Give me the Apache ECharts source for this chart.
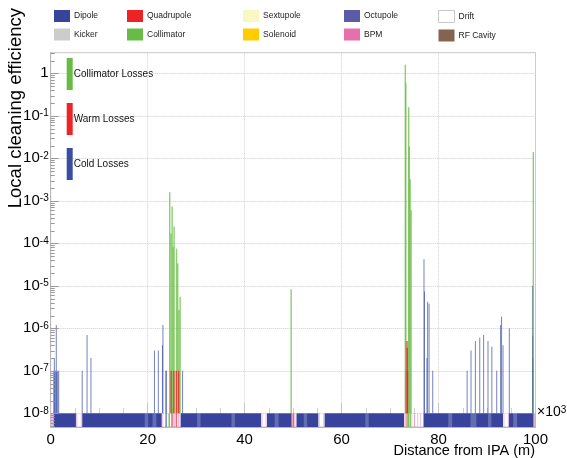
<!DOCTYPE html>
<html><head><meta charset="utf-8">
<script src="https://cdn.jsdelivr.net/npm/echarts@6/dist/echarts.min.js"></script>
<style>html,body{margin:0;padding:0;background:#fff}#c{width:567px;height:458px}</style>
</head><body><div id="c"></div>
<script>
// ---- element types (legend) ----
const elementTypes  = ['Dipole','Quadrupole','Sextupole','Octupole','Drift','Kicker','Collimator','Solenoid','BPM','RF Cavity'];
const elementColors = ['#38449c','#ee2326','#f8f8c4','#5b5ba8','#ffffff','#cccccc','#68bc45','#ffcc00','#e770ac','#846351'];

// ---- lattice strip (start m/1000, end m/1000, type) ----
const stripStart = [0.0, 0.6, 5.2, 6.2, 6.5, 23.0, 23.7, 24.3, 24.9, 25.2, 25.8, 26.2, 26.8, 43.5, 44.3, 44.6, 49.7, 49.9, 50.2, 50.7, 55.3, 56.2, 56.5, 73.0, 73.4, 73.7, 74.0, 74.4, 75.0, 75.6, 76.2, 76.9, 93.4, 94.3, 94.5, 99.55, 99.7,
  19.4, 21.0, 30.2, 37.3, 46.2, 52.2, 64.9, 82.0, 86.6, 90.2, 95.4];
const stripEnd   = [0.6, 5.2, 5.5, 6.5, 22.9, 23.2, 23.9, 24.6, 25.1, 25.7, 26.0, 26.6, 43.4, 43.7, 44.5, 49.7, 49.9, 50.1, 50.5, 55.2, 55.5, 56.4, 72.9, 73.3, 73.6, 73.9, 74.3, 74.6, 75.2, 75.8, 76.4, 93.3, 93.6, 94.5, 99.6, 99.65, 100.0,
  20.1, 21.8, 30.9, 38.0, 47.0, 52.9, 65.6, 82.8, 87.8, 90.9, 96.2];
const stripType  = ['BPM','Dipole','BPM','BPM','Dipole','BPM','Dipole','Collimator','Quadrupole','BPM','Quadrupole','BPM','Dipole','BPM','BPM','Dipole','BPM','Quadrupole','BPM','Dipole','BPM','BPM','Dipole','BPM','Quadrupole','Collimator','Collimator','BPM','BPM','BPM','BPM','Dipole','BPM','BPM','Dipole','Collimator','BPM',
  'Drift','Drift','Drift','Drift','Drift','Drift','Drift','Drift','Drift','Drift','Drift'];

// ---- losses ----
const coldS = [0.65, 0.75, 0.85, 1.05, 1.15, 1.25, 1.45, 1.65, 6.5, 7.5, 8.3, 21.4, 22.2, 23.05, 23.15, 23.75, 23.85, 27.2, 73.2, 77.0, 77.1, 77.6, 77.75, 78.05, 78.8, 85.9, 86.7, 87.6, 88.5, 89.3, 90.2, 91.0, 92.0, 92.8, 93.0, 93.3, 94.6, 99.4, 99.45, 99.5];
const coldV = [1e-7, 2e-7, 1e-7, 1e-7, 1.2e-6, 1e-7, 1e-7, 1e-7, 1e-7, 7e-7, 2e-7, 3e-7, 3e-7, 4e-7, 1.2e-6, 1e-7, 1e-7, 1e-7, 1e-7, 4.2e-5, 7.3e-6, 2e-7, 4.2e-6, 3.8e-6, 1e-7, 1e-7, 3e-7, 5e-7, 6e-7, 7e-7, 5e-7, 3.7e-7, 1e-7, 1.2e-6, 1.9e-6, 4e-7, 1e-6, 1e-5, 6.5e-7, 2e-7];
const warmS = [24.85, 25.4, 25.9, 26.4, 73.5, 73.55, 73.6];
const warmV = [1e-7, 1e-7, 1e-7, 1e-7, 5e-7, 3.5e-7, 1e-7];
const collS = [24.55, 24.8, 25.05, 25.25, 25.45, 25.95, 26.2, 26.45, 26.7, 49.6, 73.15, 73.25, 73.85, 73.95, 74.15, 74.35, 99.55];
const collV = [1.6e-3, 1.7e-4, 7.3e-4, 8.3e-5, 2.5e-4, 7.5e-5, 3.4e-5, 2.7e-6, 5.5e-6, 8.3e-6, 1.6, 0.58, 0.16, 0.019, 3.2e-3, 6e-4, 1.4e-2];

// ---- axes ----
const xTickInterval = 20;
const yMajorExp = [-8, -7, -6, -5, -4, -3, -2, -1, 0];
const yMinExp = -8.322, yMaxExp = 0.485;
const yMin = Math.pow(10, yMinExp), yMax = Math.pow(10, yMaxExp), yBase = 1e-8;

const FF = '"Liberation Sans", Arial, Helvetica, sans-serif';
const yMajor = yMajorExp.map(e => Math.pow(10, e));
const yMinor = [];
for (let e = -9; e <= 0; e++) for (let k = 2; k <= 9; k++) { const v = k * Math.pow(10, e); if (v > yMin && v < yMax) yMinor.push(v); }

const chart = echarts.init(document.getElementById('c'), null, {renderer: 'canvas'});

function barRender(w, op) {
  return function (params, api) {
    const t = api.coord([api.value(0), api.value(1)]);
    const b = api.coord([api.value(0), yBase]);
    return {type: 'rect', shape: {x: t[0] - w / 2, y: t[1], width: w, height: b[1] - t[1]},
      style: {fill: api.visual('color'), opacity: op}};
  };
}
function stripRender(op) {
  return function (params, api) {
    const a = api.coord([api.value(0), yBase]);
    const b = api.coord([api.value(1), yMin]);
    const w = Math.max(1, b[0] - a[0]);
    return {type: 'rect', shape: {x: a[0], y: a[1], width: w, height: b[1] - a[1]},
      style: {fill: api.visual('color'), opacity: op}};
  };
}
const stripOpacity = {'BPM': 0.45, 'Drift': 0.22, 'Quadrupole': 0.9, 'Collimator': 0.9, 'Dipole': 1};

const series = [
  {name: 'Cold Losses', type: 'custom', itemStyle: {color: '#3a4da3'}, z: 3, renderItem: barRender(1, 0.7),
   encode: {x: 0, y: 1}, data: coldS.map((s, i) => [s, coldV[i]])},
  {name: 'Collimator Losses', type: 'custom', itemStyle: {color: '#68bc45'}, z: 4, renderItem: barRender(1.4, 0.75),
   encode: {x: 0, y: 1}, data: collS.map((s, i) => [s, collV[i]])},
  {name: 'Warm Losses', type: 'custom', itemStyle: {color: '#ee2326'}, z: 5, renderItem: barRender(1.3, 0.85),
   encode: {x: 0, y: 1}, data: warmS.map((s, i) => [s, warmV[i]])}
];
elementTypes.forEach((t, ti) => {
  const d = [];
  stripType.forEach((st, i) => { if (st === t) d.push([stripStart[i], stripEnd[i], yBase]); });
  series.push({name: t, type: 'custom', itemStyle: {color: elementColors[ti]}, z: t === 'Dipole' ? 6 : 7,
    renderItem: stripRender(stripOpacity[t] == null ? 1 : stripOpacity[t]), encode: {x: [0, 1], y: 2}, data: d});
});

const legendCols = [['Dipole','Kicker'],['Quadrupole','Collimator'],['Sextupole','Solenoid'],['Octupole','BPM'],['Drift','RF Cavity']];
const legendLeft = [54, 127, 243, 344, 438];
const legends = legendCols.map((names, i) => ({
  orient: 'vertical', left: legendLeft[i], top: 10, padding: 0, itemWidth: 16, itemHeight: 12, itemGap: 6.5, icon: 'rect',
  selectedMode: false,
  textStyle: {fontSize: 8.5, fontFamily: FF, color: '#222', padding: [0, 0, 0, -1]},
  data: names.map(n => n === 'Drift' ? {name: n, itemStyle: {borderColor: '#c8c8c8', borderWidth: 1}} : {name: n})
}));
legends.push({
  orient: 'vertical', left: 66.7, top: 58, padding: 0, itemWidth: 6, itemHeight: 32, itemGap: 13, icon: 'rect', selectedMode: false,
  textStyle: {fontSize: 10, fontFamily: FF, color: '#111', padding: [0, 0, 0, -4]},
  data: ['Collimator Losses', 'Warm Losses', 'Cold Losses']
});

const baseGraphic = [
  {type: 'text', x: 16, y: 8, rotation: Math.PI / 2,
   style: {text: 'Local cleaning efficiency', font: '18.5px ' + FF, fill: '#000', align: 'right', verticalAlign: 'middle'}},
  {type: 'text', x: 535, y: 451,
   style: {text: 'Distance from IPA (m)', font: '14.5px ' + FF, fill: '#000', align: 'right', verticalAlign: 'middle'}},
  {type: 'text', x: 537, y: 412,
   style: {text: '{a|×10}{b|3}', align: 'left', verticalAlign: 'middle',
     rich: {a: {fontSize: 14, fontFamily: FF, fill: '#000'}, b: {fontSize: 10, fontFamily: FF, fill: '#000', verticalAlign: 'top'}}}}
];

chart.setOption({
  animation: false,
  backgroundColor: '#fff',
  grid: {left: 50.7, right: 31.5, top: 52.7, bottom: 31, show: true, borderColor: '#c8c8c8', borderWidth: 1, containLabel: false},
  legend: legends,
  xAxis: {type: 'value', min: 0, max: 100, interval: xTickInterval, position: 'bottom',
    axisLine: {show: true, onZero: false, lineStyle: {color: '#b8b8b8'}},
    axisTick: {inside: true, length: 24, lineStyle: {color: '#c4c4c4'}},
    minorTick: {show: true, splitNumber: 4, length: 19, lineStyle: {color: '#d0d0d0'}},
    axisLabel: {fontSize: 15, fontFamily: FF, color: '#000', margin: 5},
    splitLine: {show: true, lineStyle: {type: 'dotted', color: '#cfcfcf'}}},
  yAxis: {type: 'log', logBase: 10, min: yMin, max: yMax,
    axisLine: {show: true, onZero: false, lineStyle: {color: '#b8b8b8'}},
    axisTick: {show: false},
    axisLabel: {customValues: yMajor, margin: 2, color: '#000',
      formatter: v => { const e = Math.round(Math.log10(v)); return e === 0 ? '{b|1}' : '{b|10}{s|' + e + '}'; },
      rich: {b: {fontSize: 15, fontFamily: FF, color: '#000'}, s: {fontSize: 10, fontFamily: FF, color: '#000', verticalAlign: 'top'}}},
    splitLine: {show: true, lineStyle: {type: 'dotted', color: '#cfcfcf'}}},
  graphic: baseGraphic,
  series: series
});

// y-axis tick marks (log minor ticks) placed through the axis scale
const tickGraphic = [];
const x0 = chart.convertToPixel({xAxisIndex: 0}, 0);
yMajor.map(v => [v, 8]).concat(yMinor.map(v => [v, 4])).forEach(([v, len]) => {
  const py = chart.convertToPixel({yAxisIndex: 0}, v);
  if (py == null || isNaN(py)) return;
  const y = Math.round(py) + 0.5;
  tickGraphic.push({type: 'line', z: 100, silent: true,
    shape: {x1: x0, y1: y, x2: x0 + len, y2: y}, style: {stroke: '#999', lineWidth: 1}});
});
chart.setOption({graphic: baseGraphic.concat(tickGraphic)});
</script></body></html>
